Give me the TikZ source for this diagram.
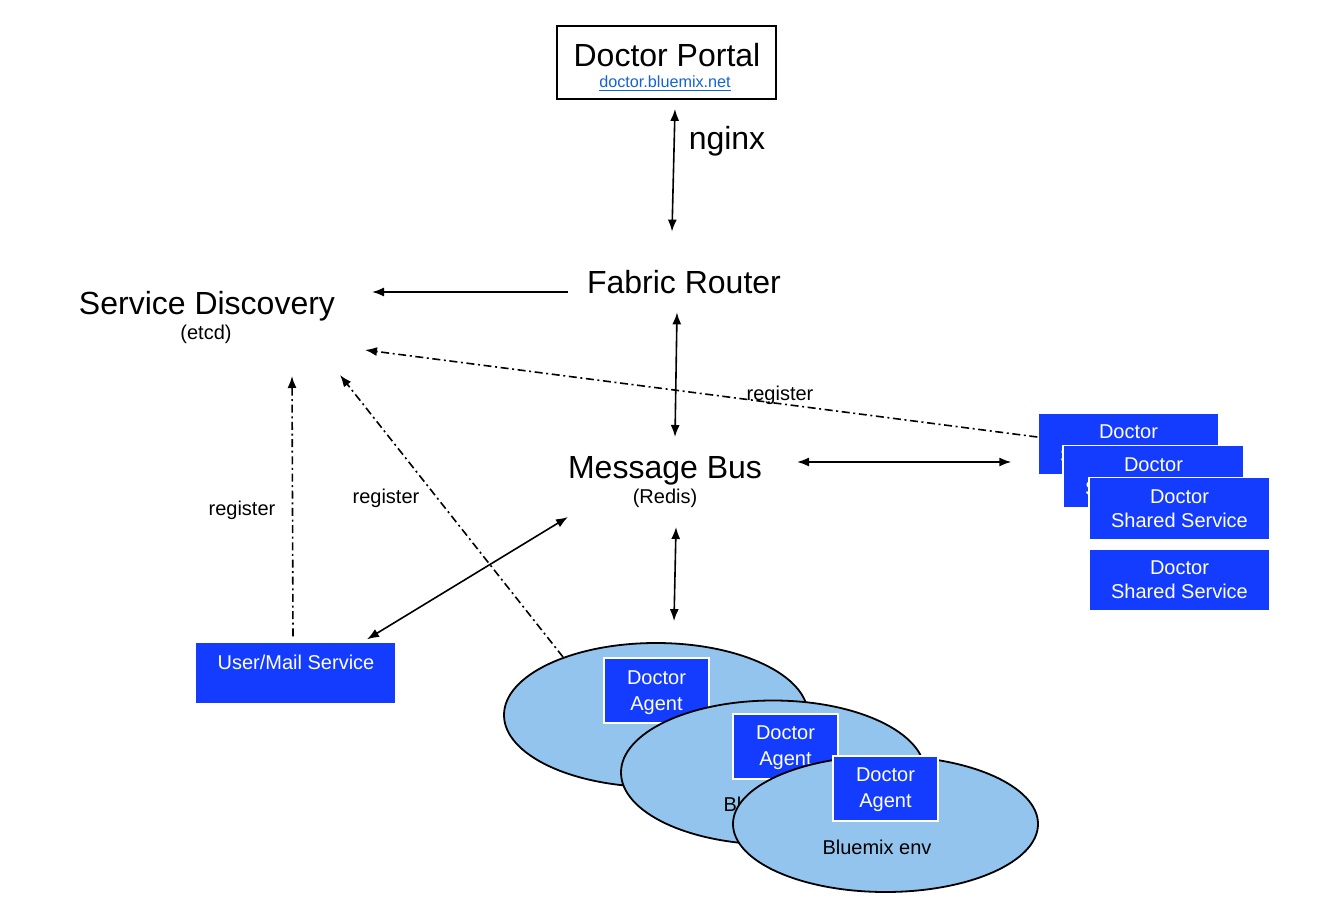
\documentclass[tikz,border=0pt]{standalone}
\usepackage{fontspec}
\setmainfont{Liberation Sans}
\usetikzlibrary{arrows.meta,calc,shapes.geometric}
\definecolor{boxblue}{RGB}{20,60,255}
\definecolor{envblue}{RGB}{146,196,237}
\definecolor{linkblue}{RGB}{20,100,210}
\begin{document}
\begin{tikzpicture}[x=0.5pt,y=-0.5pt,
  big/.style={font=\fontsize{16}{19}\selectfont, inner sep=0pt, anchor=base},
  small/.style={font=\fontsize{10}{12}\selectfont, inner sep=0pt},
  smallbase/.style={small, anchor=base},
  svc/.style={rectangle, fill=boxblue, draw=white, line width=0.7pt, text=white, align=center,
    font=\fontsize{10}{12}\selectfont, inner sep=0pt, text depth=0pt},
  sharedbox/.style={svc, minimum width=90.5pt, minimum height=31pt},
  agentbox/.style={svc, minimum width=52.5pt, minimum height=32.5pt, line width=1pt,
    font=\fontsize{10}{13}\selectfont},
  env/.style={ellipse, fill=envblue, draw=black, line width=0.9pt, minimum width=152pt,
    minimum height=72pt, inner sep=0pt},
  tip/.tip={Latex[length=6pt,width=4.5pt]},
  conn/.style={line width=0.8pt, -tip},
  dconn/.style={line width=0.8pt, tip-tip},
  reg/.style={conn, dash pattern=on 4pt off 1.8pt on 1pt off 1.8pt},
]
\useasboundingbox[fill=white] (0,0) rectangle (1344,920);

% Portal
\node[draw=black, line width=0.9pt, minimum width=109.5pt, minimum height=36.5pt, inner sep=0pt] (portal) at (666.5,62.5) {};
\node[big] (ptitle) at (667,66.5) {Doctor Portal};
\node[inner sep=0pt, anchor=base, font=\fontsize{8.1}{9}\selectfont, text=linkblue] (plink) at (665,87.5) {\underline{doctor.bluemix.net}};

% text nodes
\node[big] (nginx) at (727,149) {nginx};
\node[big, anchor=center, minimum width=116pt, minimum height=29pt] (router) at (684,283) {};
\node[big] (routertxt) at (684,293) {Fabric Router};
\node[big] (sd) at (207,314) {Service Discovery};
\node[smallbase] (sdsub) at (206,339) {(etcd)};
\node[big] (mb) at (665,478) {Message Bus};
\node[smallbase] (mbsub) at (665,503) {(Redis)};

% labels
\node[smallbase] (lreg1) at (780,400) {register};
\node[smallbase] (lreg2) at (242,515) {register};
\node[smallbase] (lreg3) at (386,503) {register};

% shared service boxes
\node[sharedbox] (ss1) at (1128.5,444) {Doctor\\Shared Service};
\node[sharedbox] (ss2) at (1153.5,476.5) {Doctor\\Shared Service};
\node[sharedbox] (ss3) at (1179.5,508.5) {Doctor\\Shared Service};
\node[sharedbox] (ss4) at (1179.5,580) {Doctor\\Shared Service};

% user/mail
\node[svc, minimum width=100.5pt, minimum height=31pt] (user) at (295.5,673) {};
\node[small, text=white] (usertxt) at (296,662) {User/Mail Service};

% environments
\node[env] (e1) at (656,715) {};
\node[agentbox] (a1) at (656.5,690.5) {Doctor\\Agent};
\node[env] (e2) at (773,772.5) {};
\node[agentbox] (a2) at (785.5,746) {Doctor\\Agent};
\node[small] (e2txt) at (778,804) {Bluemix env};
\node[env, minimum width=152.5pt, minimum height=68pt] (e3) at (885.5,824) {};
\node[agentbox] (a3) at (885.5,788) {Doctor\\Agent};
\node[small] (e3txt) at (877,847) {Bluemix env};

% connectors
\draw[dconn] ($(portal.south)+(8.5,9)$) -- ($(router.north)+(-12,-22)$);
\draw[conn] ($(router.west)+(0,9)$) -- ($(sd.base)+(165,-22)$);
\draw[dconn] ($(router.south)+(-7,0)$) -- ($(mb.base)+(10,-41)$);
\draw[dconn] ($(mb.base)+(132,-16)$) -- ($(ss1.west)+(-26,18)$);
\draw[dconn] ($(mb.base)+(-97,39)$) -- ($(user.north)+(71.5,-2)$);
\draw[dconn] ($(mb.base)+(11,49)$) -- ($(e1.north)+(18,-21)$);
\draw[reg] ($(ss1.west)+(0,-7)$) -- ($(sd.base)+(158,36)$);
\draw[reg] ($(user.north)+(-2.5,-5)$) -- ($(sd.base)+(85,62)$);
\draw[reg] ($(e1)+(-93,-58)$) -- ($(sd.base)+(133,61)$);
\end{tikzpicture}
\end{document}
